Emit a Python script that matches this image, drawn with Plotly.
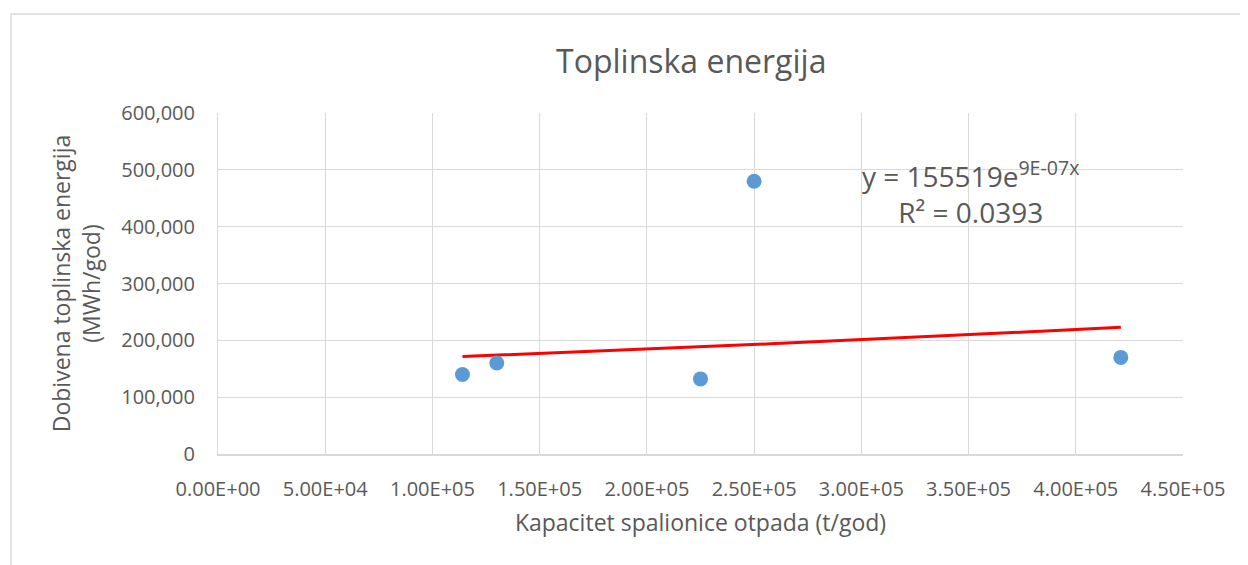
import numpy as np
import plotly.graph_objects as go

# Data
capacity = [114000, 130000, 225000, 250000, 421000]      # t/god
heat_energy = [140000, 160000, 132100, 480000, 170000]   # MWh/god

x_ticks = [0, 50000, 100000, 150000, 200000, 250000, 300000, 350000, 400000, 450000]
y_ticks = [0, 100000, 200000, 300000, 400000, 500000, 600000]

title_text = "Toplinska energija"
x_title = "Kapacitet spalionice otpada (t/god)"
y_title = "Dobivena toplinska energija<br>(MWh/god)"


def sci(v):
    m, e = f"{v:.2E}".split("E")
    return f"{m}E{e[0]}{abs(int(e)):02d}"


x_labels = [sci(v) for v in x_ticks]

# Exponential trendline fitted on the data
xa = np.array(capacity, dtype=float)
ya = np.array(heat_energy, dtype=float)
b, ln_a = np.polyfit(xa, np.log(ya), 1)
a = np.exp(ln_a)
pred = ln_a + b * xa
ss_res = np.sum((np.log(ya) - pred) ** 2)
ss_tot = np.sum((np.log(ya) - np.log(ya).mean()) ** 2)
r2 = 1 - ss_res / ss_tot
xt = np.linspace(xa.min(), xa.max(), 100)
yt = a * np.exp(b * xt)

font = "Open Sans, Calibri, sans-serif"
grey = "#595959"

fig = go.Figure()
fig.add_trace(go.Scatter(x=xt, y=yt, mode="lines",
                         line=dict(color="#FF0000", width=3), showlegend=False,
                         hoverinfo="skip"))
fig.add_trace(go.Scatter(x=capacity, y=heat_energy, mode="markers",
                         marker=dict(color="#5B9BD5", size=15), showlegend=False))

eq = f"y = {a:.0f}e<sup>{b:.0E}x</sup><br>R² = {r2:.4f}"
fig.add_annotation(x=0.780, y=0.768, xref="paper", yref="paper",
                   xanchor="center", yanchor="middle",
                   text=eq, showarrow=False, align="center",
                   font=dict(family=font, size=28, color=grey))

# outer chart border
fig.add_shape(type="rect", xref="paper", yref="paper",
              x0=-0.2145, y0=-0.5, x1=1.2, y1=1.29,
              line=dict(color="#D9D9D9", width=1.5), fillcolor="rgba(0,0,0,0)",
              layer="below")

fig.update_layout(
    width=1240, height=557,
    margin=dict(l=210, r=65, t=105, b=111),
    paper_bgcolor="white", plot_bgcolor="white",
    title=dict(text=title_text, x=0.551, xanchor="center", y=0.903, yanchor="middle",
               font=dict(family=font, size=32, color=grey)),
    font=dict(family=font, color=grey),
)
fig.update_xaxes(range=[0, 450000], tickvals=x_ticks, ticktext=x_labels,
                 showgrid=True, gridcolor="#D9D9D9", gridwidth=1,
                 showline=True, linecolor="#D9D9D9", linewidth=2,
                 zeroline=False, ticks="", ticklabelstandoff=16,
                 tickfont=dict(family=font, size=20, color=grey),
                 title=dict(text=x_title, font=dict(family=font, size=23, color=grey),
                            standoff=14))
fig.update_yaxes(range=[0, 600000], tickvals=y_ticks, tickformat=",d",
                 showgrid=True, gridcolor="#D9D9D9", gridwidth=1,
                 showline=True, linecolor="#D9D9D9", linewidth=1,
                 zeroline=False, ticks="", ticklabelstandoff=18,
                 tickfont=dict(family=font, size=20, color=grey),
                 title=dict(text=y_title, font=dict(family=font, size=23, color=grey),
                            standoff=14))

fig.write_html("out.html")
